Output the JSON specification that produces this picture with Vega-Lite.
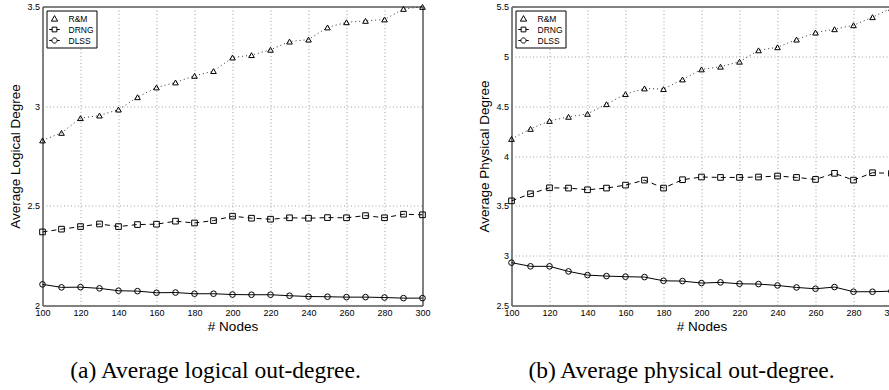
{
 "$schema": "https://vega.github.io/schema/vega-lite/v6.json",
 "background": "white",
 "padding": {"left": 7.5, "top": 1.5, "right": 0, "bottom": 0},
 "datasets": {
  "logical": [
   {"nodes":100,"alg":"R&M","value":2.828},{"nodes":110,"alg":"R&M","value":2.866},{"nodes":120,"alg":"R&M","value":2.94},{"nodes":130,"alg":"R&M","value":2.953},{"nodes":140,"alg":"R&M","value":2.983},{"nodes":150,"alg":"R&M","value":3.045},{"nodes":160,"alg":"R&M","value":3.094},{"nodes":170,"alg":"R&M","value":3.119},{"nodes":180,"alg":"R&M","value":3.152},{"nodes":190,"alg":"R&M","value":3.176},{"nodes":200,"alg":"R&M","value":3.244},{"nodes":210,"alg":"R&M","value":3.256},{"nodes":220,"alg":"R&M","value":3.283},{"nodes":230,"alg":"R&M","value":3.324},{"nodes":240,"alg":"R&M","value":3.334},{"nodes":250,"alg":"R&M","value":3.395},{"nodes":260,"alg":"R&M","value":3.421},{"nodes":270,"alg":"R&M","value":3.428},{"nodes":280,"alg":"R&M","value":3.435},{"nodes":290,"alg":"R&M","value":3.488},{"nodes":300,"alg":"R&M","value":3.498},
   {"nodes":100,"alg":"DRNG","value":2.369},{"nodes":110,"alg":"DRNG","value":2.383},{"nodes":120,"alg":"DRNG","value":2.396},{"nodes":130,"alg":"DRNG","value":2.409},{"nodes":140,"alg":"DRNG","value":2.396},{"nodes":150,"alg":"DRNG","value":2.406},{"nodes":160,"alg":"DRNG","value":2.408},{"nodes":170,"alg":"DRNG","value":2.423},{"nodes":180,"alg":"DRNG","value":2.414},{"nodes":190,"alg":"DRNG","value":2.426},{"nodes":200,"alg":"DRNG","value":2.448},{"nodes":210,"alg":"DRNG","value":2.438},{"nodes":220,"alg":"DRNG","value":2.433},{"nodes":230,"alg":"DRNG","value":2.44},{"nodes":240,"alg":"DRNG","value":2.438},{"nodes":250,"alg":"DRNG","value":2.441},{"nodes":260,"alg":"DRNG","value":2.44},{"nodes":270,"alg":"DRNG","value":2.451},{"nodes":280,"alg":"DRNG","value":2.44},{"nodes":290,"alg":"DRNG","value":2.458},{"nodes":300,"alg":"DRNG","value":2.455},
   {"nodes":100,"alg":"DLSS","value":2.106},{"nodes":110,"alg":"DLSS","value":2.091},{"nodes":120,"alg":"DLSS","value":2.092},{"nodes":130,"alg":"DLSS","value":2.086},{"nodes":140,"alg":"DLSS","value":2.074},{"nodes":150,"alg":"DLSS","value":2.072},{"nodes":160,"alg":"DLSS","value":2.064},{"nodes":170,"alg":"DLSS","value":2.065},{"nodes":180,"alg":"DLSS","value":2.059},{"nodes":190,"alg":"DLSS","value":2.059},{"nodes":200,"alg":"DLSS","value":2.055},{"nodes":210,"alg":"DLSS","value":2.054},{"nodes":220,"alg":"DLSS","value":2.054},{"nodes":230,"alg":"DLSS","value":2.049},{"nodes":240,"alg":"DLSS","value":2.045},{"nodes":250,"alg":"DLSS","value":2.044},{"nodes":260,"alg":"DLSS","value":2.042},{"nodes":270,"alg":"DLSS","value":2.042},{"nodes":280,"alg":"DLSS","value":2.04},{"nodes":290,"alg":"DLSS","value":2.037},{"nodes":300,"alg":"DLSS","value":2.037}
  ],
  "physical": [
   {"nodes":100,"alg":"R&M","value":4.171},{"nodes":110,"alg":"R&M","value":4.272},{"nodes":120,"alg":"R&M","value":4.352},{"nodes":130,"alg":"R&M","value":4.393},{"nodes":140,"alg":"R&M","value":4.423},{"nodes":150,"alg":"R&M","value":4.52},{"nodes":160,"alg":"R&M","value":4.621},{"nodes":170,"alg":"R&M","value":4.678},{"nodes":180,"alg":"R&M","value":4.671},{"nodes":190,"alg":"R&M","value":4.768},{"nodes":200,"alg":"R&M","value":4.869},{"nodes":210,"alg":"R&M","value":4.896},{"nodes":220,"alg":"R&M","value":4.946},{"nodes":230,"alg":"R&M","value":5.06},{"nodes":240,"alg":"R&M","value":5.091},{"nodes":250,"alg":"R&M","value":5.168},{"nodes":260,"alg":"R&M","value":5.238},{"nodes":270,"alg":"R&M","value":5.272},{"nodes":280,"alg":"R&M","value":5.312},{"nodes":290,"alg":"R&M","value":5.393},{"nodes":300,"alg":"R&M","value":5.483},
   {"nodes":100,"alg":"DRNG","value":3.55},{"nodes":110,"alg":"DRNG","value":3.621},{"nodes":120,"alg":"DRNG","value":3.681},{"nodes":130,"alg":"DRNG","value":3.678},{"nodes":140,"alg":"DRNG","value":3.661},{"nodes":150,"alg":"DRNG","value":3.678},{"nodes":160,"alg":"DRNG","value":3.708},{"nodes":170,"alg":"DRNG","value":3.758},{"nodes":180,"alg":"DRNG","value":3.678},{"nodes":190,"alg":"DRNG","value":3.762},{"nodes":200,"alg":"DRNG","value":3.789},{"nodes":210,"alg":"DRNG","value":3.785},{"nodes":220,"alg":"DRNG","value":3.785},{"nodes":230,"alg":"DRNG","value":3.789},{"nodes":240,"alg":"DRNG","value":3.799},{"nodes":250,"alg":"DRNG","value":3.785},{"nodes":260,"alg":"DRNG","value":3.765},{"nodes":270,"alg":"DRNG","value":3.826},{"nodes":280,"alg":"DRNG","value":3.758},{"nodes":290,"alg":"DRNG","value":3.832},{"nodes":300,"alg":"DRNG","value":3.826},
   {"nodes":100,"alg":"DLSS","value":2.93},{"nodes":110,"alg":"DLSS","value":2.893},{"nodes":120,"alg":"DLSS","value":2.893},{"nodes":130,"alg":"DLSS","value":2.842},{"nodes":140,"alg":"DLSS","value":2.805},{"nodes":150,"alg":"DLSS","value":2.795},{"nodes":160,"alg":"DLSS","value":2.789},{"nodes":170,"alg":"DLSS","value":2.785},{"nodes":180,"alg":"DLSS","value":2.748},{"nodes":190,"alg":"DLSS","value":2.745},{"nodes":200,"alg":"DLSS","value":2.725},{"nodes":210,"alg":"DLSS","value":2.732},{"nodes":220,"alg":"DLSS","value":2.718},{"nodes":230,"alg":"DLSS","value":2.715},{"nodes":240,"alg":"DLSS","value":2.701},{"nodes":250,"alg":"DLSS","value":2.681},{"nodes":260,"alg":"DLSS","value":2.668},{"nodes":270,"alg":"DLSS","value":2.685},{"nodes":280,"alg":"DLSS","value":2.638},{"nodes":290,"alg":"DLSS","value":2.638},{"nodes":300,"alg":"DLSS","value":2.644}
  ]
 },
 "config": {
  "view": {"stroke": "black", "strokeWidth": 1},
  "axis": {
   "labelFont": "Liberation Sans", "labelFontSize": 9, "labelColor": "black", "labelPadding": 3,
   "labelFlush": false, "labelOverlap": false,
   "titleFont": "Liberation Sans", "titleFontSize": 13.5, "titleFontWeight": "normal", "titleColor": "black",
   "grid": true, "gridColor": "#888888", "gridDash": [1, 2.5], "gridWidth": 0.8, "gridOpacity": 1,
   "ticks": false, "domain": false
  }
 },
 "spacing": 45,
 "resolve": {"scale": {"x": "independent", "y": "independent", "shape": "independent"}, "legend": {"shape": "independent"}},
 "hconcat": [
  {
   "width": 380, "height": 299,
   "data": {"name": "logical"},
   "title": {"text": "(a) Average logical out-degree.", "orient": "bottom", "frame": "group", "font": "Liberation Serif", "fontSize": 23.5, "fontWeight": "normal", "color": "black", "offset": 26, "dx": -17},
   "encoding": {
    "x": {"field": "nodes", "type": "quantitative", "scale": {"domain": [100, 300], "nice": false, "zero": false}, "axis": {"values": [100,120,140,160,180,200,220,240,260,280,300], "title": "# Nodes", "titlePadding": 2}},
    "y": {"field": "value", "type": "quantitative", "scale": {"domain": [2, 3.5], "nice": false, "zero": false}, "axis": {"values": [2, 2.5, 3, 3.5], "format": "~g", "title": "Average Logical Degree", "titlePadding": 4}}
   },
   "resolve": {"scale": {"shape": "independent"}},
   "layer": [
    {"transform": [{"filter": "datum.alg === 'R&M'"}], "mark": {"type": "line", "color": "#333333", "strokeWidth": 1, "strokeDash": [1, 3]}},
    {"transform": [{"filter": "datum.alg === 'DRNG'"}], "mark": {"type": "line", "color": "black", "strokeWidth": 1, "strokeDash": [5, 4]}},
    {"transform": [{"filter": "datum.alg === 'DLSS'"}], "mark": {"type": "line", "color": "black", "strokeWidth": 1}},
    {"mark": {"type": "point", "filled": false, "color": "black", "strokeWidth": 1, "size": 32, "opacity": 1},
     "encoding": {"shape": {"field": "alg", "type": "nominal", "scale": {"domain": ["R&M", "DRNG", "DLSS"], "range": ["triangle-up", "square", "circle"]}, "legend": null}}},
    {"mark": {"type": "point", "filled": false, "color": "black", "strokeWidth": 1, "size": 0, "opacity": 0},
     "encoding": {"shape": {"field": "alg", "type": "nominal", "scale": {"domain": ["R&M", "DRNG", "DLSS"], "range": ["M0,-0.55L0.6,0.5L-0.6,0.5Z", "M-1,0L-0.45,0M0.45,0L1,0M-0.45,-0.45L0.45,-0.45L0.45,0.45L-0.45,0.45Z", "M-1,0L-0.5,0M0.5,0L1,0M-0.5,0A0.5,0.5,0,1,0,0.5,0A0.5,0.5,0,1,0,-0.5,0Z"]},
      "legend": {"title": null, "orient": "top-left", "offset": 4, "padding": 2, "rowPadding": 0,
       "strokeColor": "black", "fillColor": "white", "cornerRadius": 0,
       "labelFont": "Liberation Sans", "labelFontSize": 8.5, "labelColor": "black", "labelOffset": 8,
       "symbolSize": 110, "symbolStrokeColor": "black", "symbolStrokeWidth": 1, "symbolFillColor": "white", "symbolOpacity": 1,
       "encode": {"legend": {"update": {"stroke": {"value": "black"}, "strokeWidth": {"value": 1}}}}}}}}
   ]
  },
  {
   "width": 380, "height": 299,
   "data": {"name": "physical"},
   "title": {"text": "(b) Average physical out-degree.", "orient": "bottom", "frame": "group", "font": "Liberation Serif", "fontSize": 23.5, "fontWeight": "normal", "color": "black", "offset": 26, "dx": -20},
   "encoding": {
    "x": {"field": "nodes", "type": "quantitative", "scale": {"domain": [100, 300], "nice": false, "zero": false}, "axis": {"values": [100,120,140,160,180,200,220,240,260,280,300], "title": "# Nodes", "titlePadding": 2}},
    "y": {"field": "value", "type": "quantitative", "scale": {"domain": [2.5, 5.5], "nice": false, "zero": false}, "axis": {"values": [2.5, 3, 3.5, 4, 4.5, 5, 5.5], "format": "~g", "title": "Average Physical Degree", "titlePadding": 4}}
   },
   "resolve": {"scale": {"shape": "independent"}},
   "layer": [
    {"transform": [{"filter": "datum.alg === 'R&M'"}], "mark": {"type": "line", "color": "#333333", "strokeWidth": 1, "strokeDash": [1, 3]}},
    {"transform": [{"filter": "datum.alg === 'DRNG'"}], "mark": {"type": "line", "color": "black", "strokeWidth": 1, "strokeDash": [5, 4]}},
    {"transform": [{"filter": "datum.alg === 'DLSS'"}], "mark": {"type": "line", "color": "black", "strokeWidth": 1}},
    {"mark": {"type": "point", "filled": false, "color": "black", "strokeWidth": 1, "size": 32, "opacity": 1},
     "encoding": {"shape": {"field": "alg", "type": "nominal", "scale": {"domain": ["R&M", "DRNG", "DLSS"], "range": ["triangle-up", "square", "circle"]}, "legend": null}}},
    {"mark": {"type": "point", "filled": false, "color": "black", "strokeWidth": 1, "size": 0, "opacity": 0},
     "encoding": {"shape": {"field": "alg", "type": "nominal", "scale": {"domain": ["R&M", "DRNG", "DLSS"], "range": ["M0,-0.55L0.6,0.5L-0.6,0.5Z", "M-1,0L-0.45,0M0.45,0L1,0M-0.45,-0.45L0.45,-0.45L0.45,0.45L-0.45,0.45Z", "M-1,0L-0.5,0M0.5,0L1,0M-0.5,0A0.5,0.5,0,1,0,0.5,0A0.5,0.5,0,1,0,-0.5,0Z"]},
      "legend": {"title": null, "orient": "top-left", "offset": 4, "padding": 2, "rowPadding": 0,
       "strokeColor": "black", "fillColor": "white", "cornerRadius": 0,
       "labelFont": "Liberation Sans", "labelFontSize": 8.5, "labelColor": "black", "labelOffset": 8,
       "symbolSize": 110, "symbolStrokeColor": "black", "symbolStrokeWidth": 1, "symbolFillColor": "white", "symbolOpacity": 1,
       "encode": {"legend": {"update": {"stroke": {"value": "black"}, "strokeWidth": {"value": 1}}}}}}}}
   ]
  }
 ]
}
